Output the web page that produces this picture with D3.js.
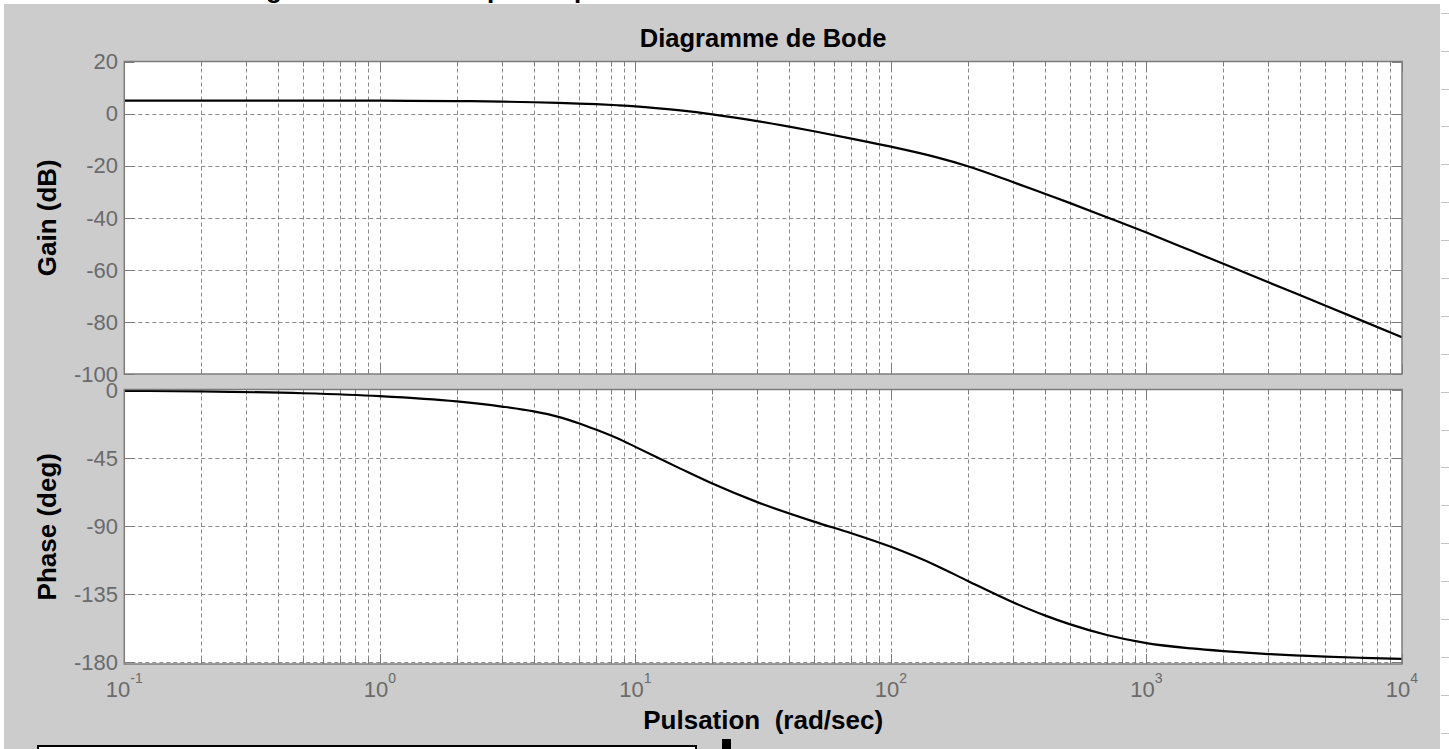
<!DOCTYPE html>
<html>
<head>
<meta charset="utf-8">
<script src="https://cdn.jsdelivr.net/npm/d3@7"></script>
<style>
  html, body { margin: 0; padding: 0; background: #fff; overflow: hidden; }
  svg { display: block; }
  text { font-family: "Liberation Sans", Arial, Helvetica, sans-serif; }
</style>
</head>
<body>
<svg id="chart" width="1449" height="749"></svg>
<script>
// Frequency response samples (rad/sec) with gain (dB) and phase (deg)
const omega    = [0.1, 0.2, 0.5, 1, 2, 3, 4, 5, 6, 7, 8.5, 10, 15, 20, 30, 50, 70, 100, 150, 200, 300, 400, 500, 700, 1000, 1500, 2000, 3000, 4000, 5000, 7000, 10000];
const gainDb   = [5.0, 5.0, 5.0, 4.95, 4.8, 4.6, 4.35, 4.1, 3.85, 3.6, 3.2, 2.8, 1.2, -0.3, -2.9, -6.8, -9.6, -12.7, -16.7, -20.2, -26.3, -30.8, -34.3, -39.8, -45.7, -52.7, -57.7, -64.8, -69.8, -73.7, -79.6, -85.9];
const phaseDeg = [-0.4, -0.8, -2.0, -3.9, -7.4, -10.8, -14, -17.6, -21.8, -26, -31.8, -37.5, -51.9, -61.8, -74.1, -87.0, -94.7, -103.7, -116.0, -126.3, -140.4, -149.1, -154.9, -162.1, -167.5, -171.0, -172.75, -174.7, -175.7, -176.4, -177.2, -177.9];

// Axis ticks
const decadeExps  = [-1, 0, 1, 2, 3, 4];
const gainTicks   = [20, 0, -20, -40, -60, -80, -100];
const phaseTicks  = [0, -45, -90, -135, -180];

// Text
const titleText  = "Diagramme de Bode";
const gainLabel  = "Gain (dB)";
const phaseLabel = "Phase (deg)";
const xLabel     = "Pulsation  (rad/sec)";

const svg = d3.select("#chart");
const W = 1449, H = 749;

const left = 124.3, right = 1402;
const gainTop = 61.5, gainBottom = 374;
const phaseTop = 389.5, phaseBottom = 664;

const axisColor = "#7c7c7c";
const gridColor = "#8a8a8a";
const tickTextColor = "#6a6a6a";

// fragments of a line of text above the figure
const frag = svg.append("g").attr("font-weight", "bold").attr("font-size", 26).attr("fill", "#000");
frag.append("text").attr("x", 266).attr("y", -2.5).text("g");
frag.append("text").attr("x", 487).attr("y", -2.5).text("p");
frag.append("text").attr("x", 574).attr("y", -2.5).text("p");

// figure background
svg.append("rect").attr("x", 4).attr("y", 4).attr("width", 1436).attr("height", H - 4).attr("fill", "#cccccc");

// strip at the right edge
const strip = svg.append("g");
for (let k = 0; k < 20; k++) {
  const yy = Math.round(12.7 + 37.9 * k) + 0.5;
  strip.append("line").attr("x1", 1441).attr("x2", W).attr("y1", yy).attr("y2", yy)
    .attr("stroke", "#c4c4c4").attr("stroke-width", 1);
}

const x = d3.scaleLog().domain([0.1, 10000]).range([left, right]);
const yGain = d3.scaleLinear().domain([-100, 20]).range([gainBottom, gainTop]);
const yPhase = d3.scaleLinear().domain([-181.3, 0.5]).range([phaseBottom, phaseTop]);

// minor/major x positions
const minorX = [];
decadeExps.slice(0, -1).forEach(e => {
  for (let m = 2; m <= 9; m++) minorX.push(m * Math.pow(10, e));
});
const majorX = decadeExps.map(e => Math.pow(10, e));

function drawPanel(yScale, yTicks, top, bottom, values, label, labelCenterY) {
  const g = svg.append("g");
  g.append("rect").attr("x", left).attr("y", top).attr("width", right - left).attr("height", bottom - top).attr("fill", "#fff");

  // grid
  const grid = g.append("g").attr("stroke", gridColor).attr("stroke-width", 1).attr("stroke-dasharray", "4,3");
  majorX.concat(minorX).forEach(v => {
    const px = Math.round(x(v)) + 0.5;
    if (px <= left + 1 || px >= right - 1) return;
    grid.append("line").attr("x1", px).attr("x2", px).attr("y1", top).attr("y2", bottom);
  });
  yTicks.forEach(v => {
    const py = Math.round(yScale(v)) + 0.5;
    if (py <= top + 1 || py >= bottom - 1) return;
    grid.append("line").attr("x1", left).attr("x2", right).attr("y1", py).attr("y2", py);
  });

  // ticks (inside, on every side)
  const ticks = g.append("g").attr("stroke", axisColor).attr("stroke-width", 1);
  majorX.forEach(v => {
    const px = Math.round(x(v)) + 0.5;
    ticks.append("line").attr("x1", px).attr("x2", px).attr("y1", bottom).attr("y2", bottom - 10);
    ticks.append("line").attr("x1", px).attr("x2", px).attr("y1", top).attr("y2", top + 10);
  });
  minorX.forEach(v => {
    const px = Math.round(x(v)) + 0.5;
    ticks.append("line").attr("x1", px).attr("x2", px).attr("y1", bottom).attr("y2", bottom - 5);
    ticks.append("line").attr("x1", px).attr("x2", px).attr("y1", top).attr("y2", top + 5);
  });
  yTicks.forEach(v => {
    const py = Math.round(yScale(v)) + 0.5;
    ticks.append("line").attr("x1", left).attr("x2", left + 10).attr("y1", py).attr("y2", py);
    ticks.append("line").attr("x1", right).attr("x2", right - 10).attr("y1", py).attr("y2", py);
  });

  // data curve
  const line = d3.line()
    .x((d, i) => x(omega[i]))
    .y(d => yScale(d))
    .curve(d3.curveMonotoneX);
  g.append("path").datum(values).attr("d", line)
    .attr("fill", "none").attr("stroke", "#000").attr("stroke-width", 2.2).attr("stroke-linejoin", "round");

  // box
  g.append("rect").attr("x", left).attr("y", top).attr("width", right - left).attr("height", bottom - top)
    .attr("fill", "none").attr("stroke", axisColor).attr("stroke-width", 1.5);

  // y tick labels
  const yl = g.append("g").attr("font-size", 22).attr("fill", tickTextColor).attr("text-anchor", "end");
  yTicks.forEach(v => {
    yl.append("text").attr("x", 118).attr("y", yScale(v) + 7.8).text(v);
  });

  // y axis label
  g.append("text")
    .attr("transform", `translate(56,${labelCenterY}) rotate(-90)`)
    .attr("text-anchor", "middle").attr("font-weight", "bold").attr("font-size", 26).attr("fill", "#000")
    .text(label);
}

drawPanel(yGain, gainTicks, gainTop, gainBottom, gainDb, gainLabel, (gainTop + gainBottom) / 2);
drawPanel(yPhase, phaseTicks, phaseTop, phaseBottom, phaseDeg, phaseLabel, (phaseTop + phaseBottom) / 2);

// x tick labels: 10^e
const xl = svg.append("g").attr("fill", tickTextColor);
decadeExps.forEach(e => {
  const t = xl.append("text").attr("x", x(Math.pow(10, e))).attr("y", 697).attr("text-anchor", "middle");
  t.append("tspan").attr("font-size", 22).text("10");
  t.append("tspan").attr("font-size", 14).attr("dy", -14).text(String(e));
});

// title and x label
svg.append("text").attr("x", (left + right) / 2).attr("y", 47).attr("text-anchor", "middle")
  .attr("font-weight", "bold").attr("font-size", 25.5).attr("fill", "#000").text(titleText);
svg.append("text").attr("x", (left + right) / 2).attr("y", 729).attr("text-anchor", "middle")
  .attr("font-weight", "bold").attr("font-size", 26).attr("fill", "#000")
  .attr("xml:space", "preserve").style("white-space", "pre").text(xLabel);

// white box at the bottom left and a small handle
svg.append("rect").attr("x", 38).attr("y", 746).attr("width", 658).attr("height", 12)
  .attr("fill", "#fff").attr("stroke", "#000").attr("stroke-width", 2);
svg.append("rect").attr("x", 722).attr("y", 739).attr("width", 9).attr("height", 10).attr("fill", "#000");
</script>
</body>
</html>
